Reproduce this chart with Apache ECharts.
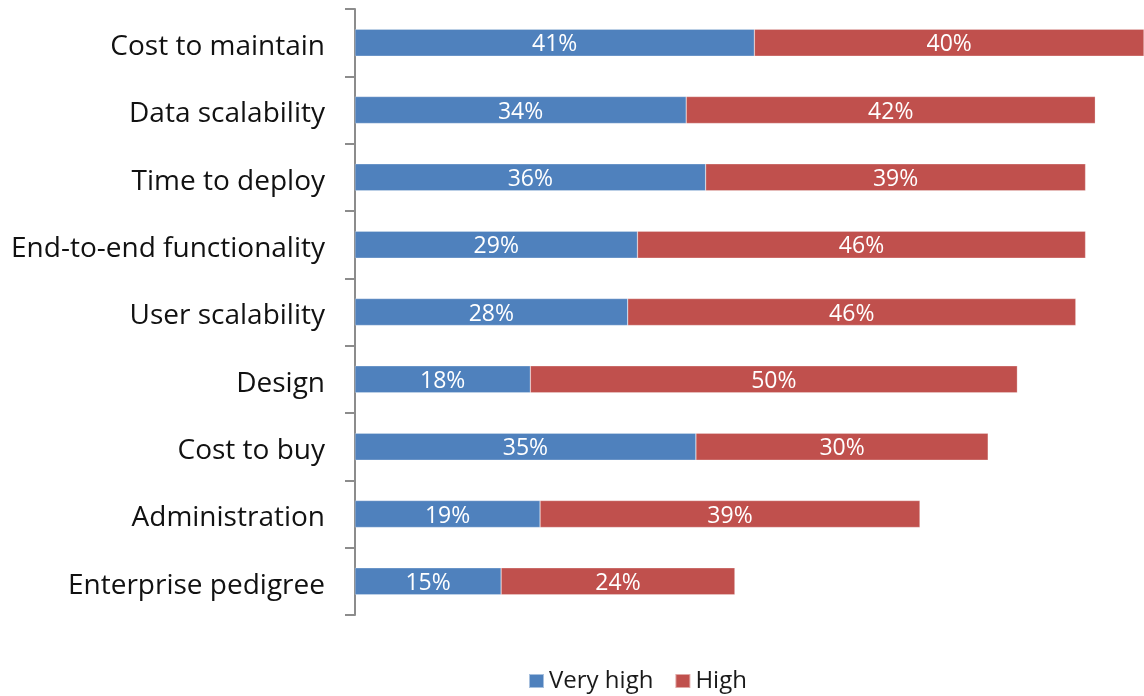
<!DOCTYPE html>
<html>
<head>
<meta charset="utf-8">
<script src="https://cdn.jsdelivr.net/npm/echarts@6/dist/echarts.min.js"></script>
<style>
  html, body { margin: 0; padding: 0; background: #fff; }
  #chart { width: 1144px; height: 696px; }
</style>
</head>
<body>
<div id="chart"></div>
<script>
// Categories listed bottom-to-top (category axis is drawn from the bottom up)
const categories = [
  'Enterprise pedigree',
  'Administration',
  'Cost to buy',
  'Design',
  'User scalability',
  'End-to-end functionality',
  'Time to deploy',
  'Data scalability',
  'Cost to maintain'
];
const veryHigh = [15, 19, 35, 18, 28, 29, 36, 34, 41];
const high     = [24, 39, 30, 50, 46, 46, 39, 42, 40];

const FONT = '"Open Sans", Lato, sans-serif';

const chart = echarts.init(document.getElementById('chart'), null, { renderer: 'canvas' });

const barLabel = {
  show: true,
  position: 'inside',
  color: '#ffffff',
  fontFamily: FONT,
  fontSize: 23,
  offset: [0, 2],
  formatter: p => p.value + '%'
};

chart.setOption({
  animation: false,
  backgroundColor: '#ffffff',
  grid: { left: 355, right: 0, top: 9, bottom: 81, containLabel: false },
  legend: {
    top: 669,
    left: 528,
    padding: 0,
    itemWidth: 15,
    itemHeight: 14,
    itemGap: 21,
    icon: 'rect',
    textStyle: { fontFamily: FONT, fontSize: 24, color: '#1a1a1a' },
    data: ['Very high', 'High']
  },
  xAxis: {
    type: 'value',
    min: 0,
    max: 81,
    show: false
  },
  yAxis: {
    type: 'category',
    data: categories,
    axisLine: { show: true, lineStyle: { color: '#8c8c8c', width: 2 } },
    axisTick: { show: true, length: 10, alignWithLabel: false, lineStyle: { color: '#8c8c8c', width: 2 } },
    axisLabel: {
      margin: 30,
      formatter: v => '{c|' + v + '}',
      rich: {
        c: { fontFamily: FONT, fontSize: 28, color: '#111111', padding: [9, 0, 0, 0] }
      }
    },
    splitLine: { show: false }
  },
  series: [
    {
      name: 'Very high',
      type: 'bar',
      stack: 'total',
      data: veryHigh,
      barWidth: '40%',
      itemStyle: { color: '#4F81BD', borderColor: 'rgba(255,255,255,0.5)', borderWidth: 0.5 },
      label: barLabel
    },
    {
      name: 'High',
      type: 'bar',
      stack: 'total',
      data: high,
      barWidth: '40%',
      itemStyle: { color: '#C0504D', borderColor: 'rgba(255,255,255,0.5)', borderWidth: 0.5 },
      label: barLabel
    }
  ]
});
</script>
</body>
</html>
